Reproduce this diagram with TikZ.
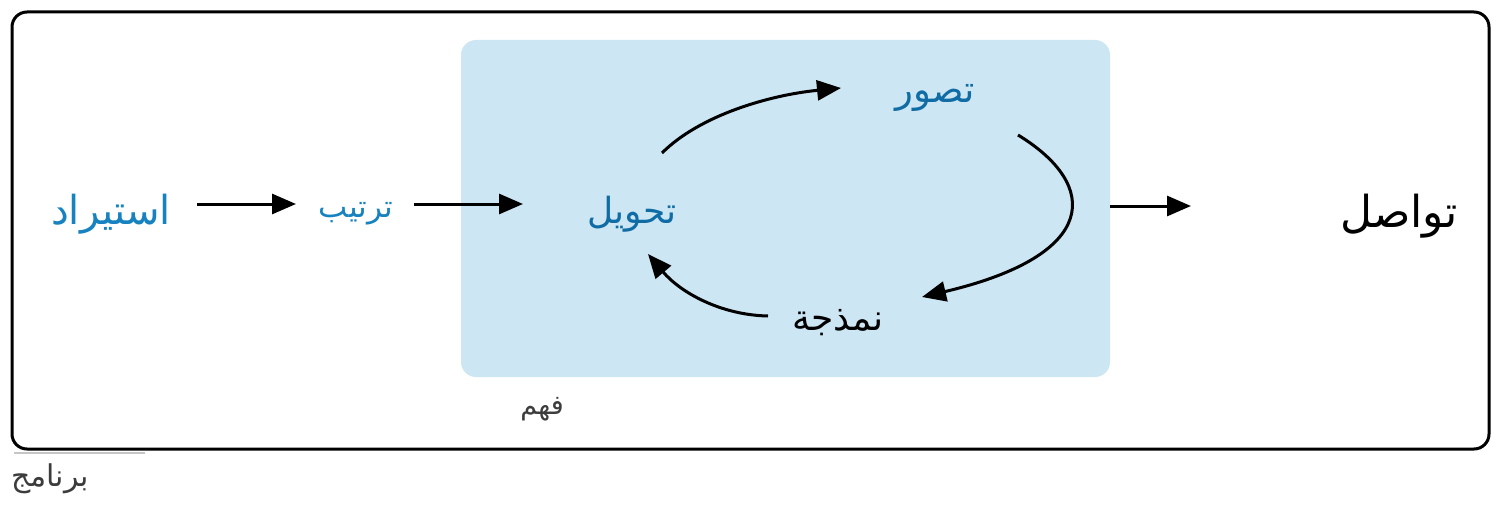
\documentclass[tikz,border=0pt]{standalone}
\usepackage{fontspec}
\newfontfamily\arabicfont[Script=Arabic]{DejaVu Sans}
\TeXXeTstate=1
\usetikzlibrary{arrows.meta}
\definecolor{boxblue}{RGB}{204,230,244}
\definecolor{lightblue}{RGB}{22,130,192}
\definecolor{darkblue}{RGB}{16,108,164}
\definecolor{labelgray}{RGB}{60,60,60}
\tikzset{
  arr/.style={line width=3pt,-{Triangle[length=24pt,width=20pt]}},
  lbl/.style={inner sep=0pt,font=\arabicfont\fontsize{#1}{#1}\selectfont},
}
\begin{document}
\begin{tikzpicture}[x=1pt,y=-1pt]
\useasboundingbox (0,0) rectangle (1504,508);
% outer program box
\draw[line width=3pt,rounded corners=15pt] (12,12) rectangle (1489,449);
\draw[gray!45,line width=2pt] (14,452.5) -- (145,452.5);
% understand box
\fill[boxblue,rounded corners=15pt] (461,40) rectangle (1110,377);
% labels
\node[lbl=40,text=lightblue] (import) at (111,214) {\beginR استيراد\endR};
\node[lbl=31,text=lightblue] (tidy) at (356,214) {\beginR ترتيب\endR};
\node[lbl=36,text=darkblue] (transform) at (632,214) {\beginR تحويل\endR};
\node[lbl=37,text=darkblue] (visualise) at (935,98) {\beginR تصور\endR};
\node[lbl=36,text=black] (model) at (838,323) {\beginR نمذجة\endR};
\node[lbl=44,text=black] (communicate) at (1399,216) {\beginR تواصل\endR};
\node[lbl=27,text=labelgray] (understand) at (542,409) {\beginR فهم\endR};
\node[lbl=30,text=labelgray,anchor=west] (program) at (11,479) {\beginR برنامج\endR};
% connector end points
\coordinate (a1) at (197,204);
\coordinate (a2) at (296,204);
\coordinate (b1) at (414,204);
\coordinate (b2) at (523,204);
\coordinate (c1) at (662,153);
\coordinate (c2) at (841,88);
\coordinate (d1) at (1018,135);
\coordinate (d2) at (922,297);
\coordinate (e1) at (768,316);
\coordinate (e2) at (648,254);
\coordinate (f1) at (1110,206);
\coordinate (f2) at (1191,206);
% connectors
\draw[arr] (a1) -- (a2);
\draw[arr] (b1) -- (b2);
\draw[arr] (c1) .. controls (700,115) and (770,95) .. (c2);
\draw[arr] (d1) .. controls (1100,185) and (1100,255) .. (d2);
\draw[arr] (e1) .. controls (720,315) and (680,292) .. (e2);
\draw[arr] (f1) -- (f2);
\end{tikzpicture}
\end{document}
